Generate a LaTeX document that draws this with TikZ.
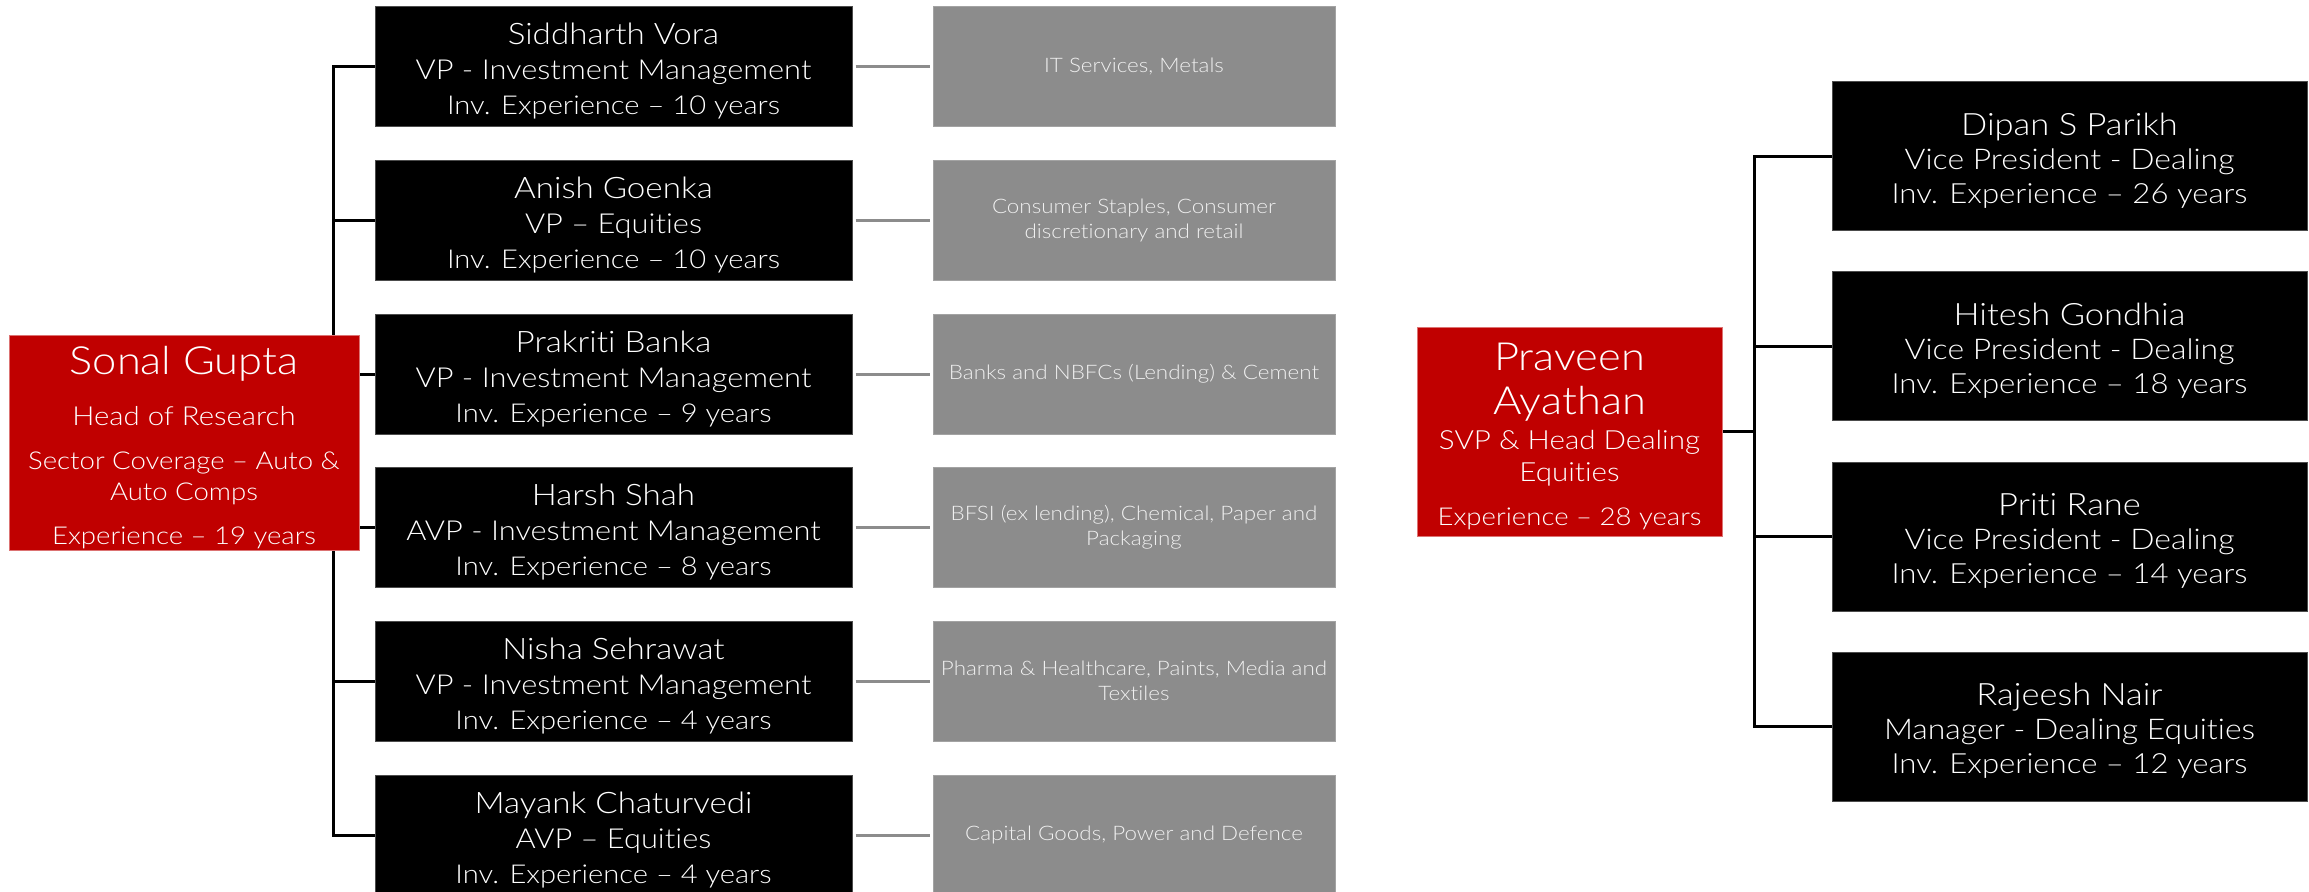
\documentclass[tikz,border=0pt]{standalone}
\usepackage{fontspec}
\IfFontExistsTF{Lato Light}{\setmainfont{Lato Light}[FakeStretch=1.12,Ligatures=NoCommon]}{\setmainfont{Lato}[FakeStretch=1.12,Ligatures=NoCommon]}
\usetikzlibrary{backgrounds}
\definecolor{hred}{HTML}{C00000}
\definecolor{boxgray}{HTML}{8C8C8C}
\newcommand{\tstrut}[1]{\rule{0pt}{#1}}
\newcommand{\lname}{\fontsize{14.8}{17.5}\selectfont\tstrut{15.5pt}}
\newcommand{\lthree}{\fontsize{13}{17.5}\selectfont}
\newcommand{\rname}{\fontsize{15.4}{17}\selectfont\tstrut{15.5pt}}
\newcommand{\rthree}{\fontsize{13.9}{17}\selectfont}
\begin{document}
\begin{tikzpicture}[x=0.5pt,y=-0.5pt,
  conn/.style={line width=1.5pt,black},
  gconn/.style={line width=1.5pt,boxgray,shorten <=1.5pt,shorten >=1.5pt},
  blkbox/.style={fill=black,draw=black!70!white,line width=0.5pt,text=white,align=center,inner sep=0pt},
  lblk/.style={blkbox,minimum width=238.5pt,minimum height=60pt,font=\fontsize{13.75}{17.5}\selectfont},
  rblk/.style={blkbox,minimum width=237.5pt,minimum height=74.5pt,font=\fontsize{14.25}{17}\selectfont},
  grybox/.style={fill=boxgray,draw=boxgray!80!white,line width=0.5pt,text=white!94!black,align=center,inner sep=0pt,
    minimum width=201pt,minimum height=60pt,font=\fontsize{10}{12.5}\selectfont},
  redbox/.style={fill=hred,draw=hred!55!white,line width=0.5pt,text=white,align=center,inner sep=0pt}
]
\useasboundingbox (0,0) rectangle (2309,891);
% left column
\node[lblk] (b1) at (613.5,66) {\lname Siddharth Vora\\VP - Investment Management\\\lthree Inv. Experience – 10 years};
\node[lblk] (b2) at (613.5,220) {\lname Anish Goenka\\VP – Equities\\\lthree Inv. Experience – 10 years};
\node[lblk] (b3) at (613.5,374) {\lname Prakriti Banka\\VP - Investment Management\\\lthree Inv. Experience – 9 years};
\node[lblk] (b4) at (613.5,527) {\lname Harsh Shah\\AVP - Investment Management\\\lthree Inv. Experience – 8 years};
\node[lblk] (b5) at (613.5,681) {\lname Nisha Sehrawat\\VP - Investment Management\\\lthree Inv. Experience – 4 years};
\node[lblk] (b6) at (613.5,835) {\lname Mayank Chaturvedi\\AVP – Equities\\\lthree Inv. Experience – 4 years};
\node[grybox] (g1) at (1134,66) {IT Services, Metals};
\node[grybox] (g2) at (1134,220) {Consumer Staples, Consumer\\discretionary and retail};
\node[grybox] (g3) at (1134,374) {Banks and NBFCs (Lending) \& Cement};
\node[grybox] (g4) at (1134,527) {BFSI (ex lending), Chemical, Paper and\\Packaging};
\node[grybox] (g5) at (1134,681) {Pharma \& Healthcare, Paints, Media and\\Textiles};
\node[grybox] (g6) at (1134,835) {Capital Goods, Power and Defence};
\node[redbox,minimum width=175pt,minimum height=107.5pt,font=\fontsize{12.3}{15.5}\selectfont] (sonal) at (184,442.5)
  {\fontsize{19.4}{15.5}\selectfont\tstrut{19.5pt}Sonal Gupta\\[10pt]
   \fontsize{13.1}{15.5}\selectfont Head of Research\\[6.5pt]
   Sector Coverage – Auto \&\\
   Auto Comps\\[6.5pt]
   Experience – 19 years};
% right column
\node[redbox,minimum width=152.5pt,minimum height=104.5pt,font=\fontsize{13.2}{16}\selectfont] (praveen) at (1569.5,431.5)
  {\fontsize{19.4}{16}\selectfont\tstrut{19pt}Praveen\\[6pt]
   \fontsize{19.4}{16}\selectfont Ayathan\\[1.5pt]
   SVP \& Head Dealing\\
   Equities\\[6pt]
   \fontsize{12.3}{16}\selectfont Experience – 28 years};
\node[rblk] (r1) at (2069.5,156) {\rname Dipan S Parikh\\Vice President - Dealing\\\rthree Inv. Experience – 26 years};
\node[rblk] (r2) at (2069.5,346) {\rname Hitesh Gondhia\\Vice President - Dealing\\\rthree Inv. Experience – 18 years};
\node[rblk] (r3) at (2069.5,536.5) {\rname Priti Rane\\Vice President - Dealing\\\rthree Inv. Experience – 14 years};
\node[rblk] (r4) at (2069.5,726.5) {\rname Rajeesh Nair\\Manager - Dealing Equities\\\rthree Inv. Experience – 12 years};
\coordinate (lt) at (333,0);
\coordinate (rt) at (1754,0);
\begin{scope}[on background layer]
  \fill[white] (0,0) rectangle (2309,891);
  \draw[conn] (b1.west) -- (b1.west -| lt) -- (b6.west -| lt) -- (b6.west);
  \foreach \n in {b2,b3,b4,b5} \draw[conn] (\n.west) -- (\n.west -| lt);
  \foreach \i in {1,...,6} \draw[gconn] (b\i.east) -- (g\i.west);
  \draw[conn] (r1.west) -- (r1.west -| rt) -- (r4.west -| rt) -- (r4.west);
  \foreach \n in {r2,r3} \draw[conn] (\n.west) -- (\n.west -| rt);
  \draw[conn] (praveen.east) -- (praveen.east -| rt);
\end{scope}
\end{tikzpicture}
\end{document}
